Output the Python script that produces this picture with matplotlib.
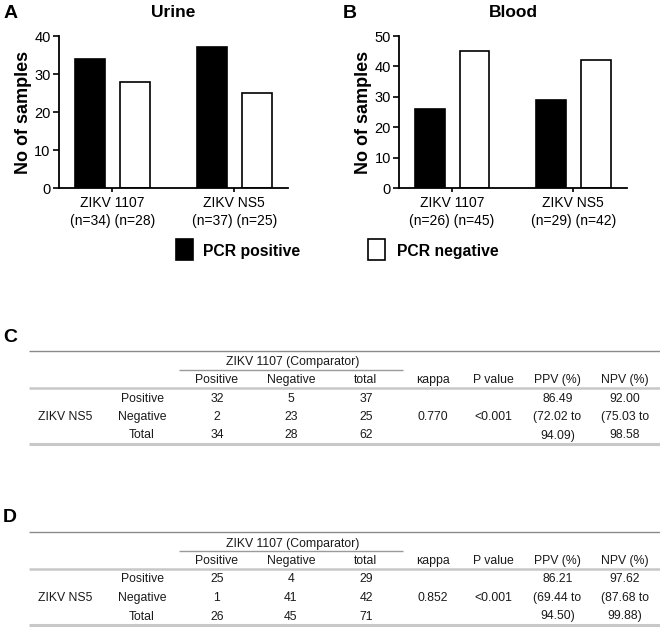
import matplotlib
matplotlib.use("Agg")
import matplotlib.pyplot as plt
from matplotlib.patches import Rectangle

plt.rcParams['font.family'] = ['Liberation Sans', 'DejaVu Sans']

groups = ["ZIKV 1107", "ZIKV NS5"]
urine_pos = [34, 37]
urine_neg = [28, 25]
blood_pos = [26, 29]
blood_neg = [45, 42]

table_cols = ["Positive", "Negative", "total", "\u03ba" + "appa", "P value", "PPV (%)", "NPV (%)"]
row_labels = ["Positive", "Negative", "Total"]

c_counts = [[32, 5, 37], [2, 23, 25], [34, 28, 62]]
c_kappa = "0.770"
c_p = "<0.001"
c_ppv = ["86.49", "(72.02 to", "94.09)"]
c_npv = ["92.00", "(75.03 to", "98.58"]

d_counts = [[25, 4, 29], [1, 41, 42], [26, 45, 71]]
d_kappa = "0.852"
d_p = "<0.001"
d_ppv = ["86.21", "(69.44 to", "94.50)"]
d_npv = ["97.62", "(87.68 to", "99.88)"]

fig = plt.figure(figsize=(6.6, 6.28), dpi=100)

# overlay in pixel coords for letters, legend and tables
ov = fig.add_axes([0, 0, 1, 1], zorder=-1)
ov.set_xlim(0, 660)
ov.set_ylim(628, 0)
ov.axis("off")


def bar_panel(rect, pos, neg, ymax, title):
    ax = fig.add_axes(rect)
    x = [0, 1]
    w = 0.246
    off = 0.185
    ax.bar([i - off for i in x], pos, width=w, color="black", edgecolor="black", linewidth=1.2)
    ax.bar([i + off for i in x], neg, width=w, color="white", edgecolor="black", linewidth=1.2)
    labels = [f"{g}\n(n={p}) (n={n})" for g, p, n in zip(groups, pos, neg)]
    ax.set_xticks(x)
    ax.set_xticklabels(labels, fontsize=10, linespacing=1.3)
    ax.set_xlim(-0.435, 1.44)
    ax.set_ylim(0, ymax)
    ax.set_yticks(range(0, ymax + 1, 10))
    ax.tick_params(axis="y", labelsize=10.5, length=4, width=1.2, direction="out", pad=2)
    ax.tick_params(axis="x", length=3, width=1.2, direction="out", pad=3)
    for s in ["top", "right"]:
        ax.spines[s].set_visible(False)
    for s in ["left", "bottom"]:
        ax.spines[s].set_linewidth(1.3)
    ax.set_ylabel("No of samples", fontsize=13, fontweight="bold", labelpad=2)
    ax.set_title(title, fontsize=12.5, fontweight="bold", pad=14)
    return ax


bar_panel([0.0894, 0.7006, 0.347, 0.242], urine_pos, urine_neg, 40, "Urine")
bar_panel([0.605, 0.7006, 0.3445, 0.242], blood_pos, blood_neg, 50, "Blood")

for letter, lx, ly in [("A", 4, 12), ("B", 343, 12), ("C", 3, 335), ("D", 3, 515)]:
    ov.text(lx, ly, letter, fontsize=14, fontweight="bold", ha="left", va="center_baseline")

# legend
ov.add_patch(Rectangle((176, 239), 17, 21, facecolor="black", edgecolor="black", lw=1.2))
ov.text(203, 250, "PCR positive", fontsize=11.3, fontweight="bold", va="center_baseline")
ov.add_patch(Rectangle((368, 239), 17, 21, facecolor="white", edgecolor="black", lw=1.2))
ov.text(397, 250, "PCR negative", fontsize=11.3, fontweight="bold", va="center_baseline")

col_x = [217, 291, 366, 433, 493, 557.5, 625]
tc = "#1a1a1a"
fs = 8.8


def cell(x, y, s):
    ov.text(x, y, s, fontsize=fs, color=tc, ha="center", va="center_baseline")


def draw_table(top, counts, kappa, pval, ppv, npv):
    ov.hlines(top, 29, 660, color="#8a8a8a", lw=1.0)
    cell(293, top + 10, "ZIKV 1107 (Comparator)")
    ov.hlines(top + 18.5, 179, 403, color="#9a9a9a", lw=1.0)
    for cx, name in zip(col_x, table_cols):
        cell(cx, top + 27.5, name)
    ov.hlines(top + 37, 29, 660, color="#c8c8c8", lw=1.8)
    row_y = [top + 46, top + 64.5, top + 83]
    cell(65, row_y[1], "ZIKV NS5")
    for ry, lab, vals, pv, nv in zip(row_y, row_labels, counts, ppv, npv):
        cell(142, ry, lab)
        for cx, v in zip(col_x[:3], vals):
            cell(cx, ry, str(v))
        cell(col_x[5], ry, pv)
        cell(col_x[6], ry, nv)
    cell(col_x[3], row_y[1], kappa)
    cell(col_x[4], row_y[1], pval)
    ov.hlines(top + 93, 29, 660, color="#c8c8c8", lw=2.2)


draw_table(351, c_counts, c_kappa, c_p, c_ppv, c_npv)
draw_table(532, d_counts, d_kappa, d_p, d_ppv, d_npv)

fig.savefig("out.png", dpi=100)
